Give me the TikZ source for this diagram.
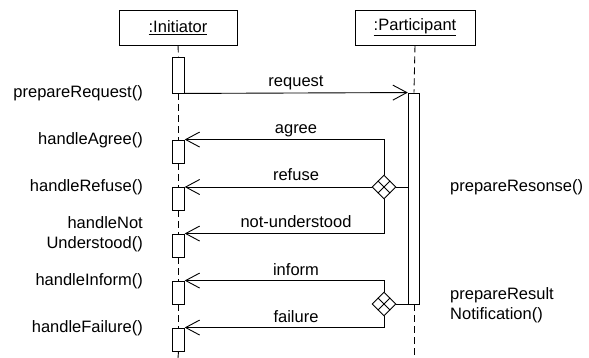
\documentclass[tikz,border=0pt]{standalone}
\usepackage{fontspec}
\setmainfont{Liberation Sans}
\usetikzlibrary{positioning,arrows.meta,calc,shapes.geometric}

\begin{document}
\begin{tikzpicture}[x=1pt,y=-1pt,
  txt/.style={font=\fontsize{16.5}{20}\selectfont},
  lifebox/.style={txt, draw, line width=0.9pt, minimum width=118pt, minimum height=35pt, inner sep=0pt},
  act/.style={draw, fill=white, line width=0.9pt, minimum width=11.5pt, inner sep=0pt},
  lifeline/.style={line width=0.9pt, dash pattern=on 7pt off 4pt},
  msg/.style={line width=0.9pt, -{Straight Barb[length=14pt,width=15pt]}},
  xorgate/.style={diamond, draw, fill=white, line width=0.9pt, minimum width=24pt, minimum height=24pt, inner sep=0pt},
  lbl/.style={txt, inner sep=0pt}]
\useasboundingbox (0,0) rectangle (589,358);

\node[lifebox] (init) at (178,27.5) {\underline{:Initiator}};
\node[lifebox, minimum width=120pt] (part) at (415,27.5) {\underline{:Participant}};
\coordinate (iend) at (178,358);
\coordinate (pend) at (414,358);

\node[act, minimum height=36pt] (iact) at (178.5,75) {};
\node[act, minimum height=211pt] (pact) at (414,198.5) {};
\node[act, minimum height=23pt] (ragree) at (178.5,151.5) {};
\node[act, minimum height=23pt] (rrefuse) at (178.5,198.5) {};
\node[act, minimum height=23pt] (rnotu) at (178.5,245.5) {};
\node[act, minimum height=23pt] (rinform) at (178.5,292.5) {};
\node[act, minimum height=23pt] (rfail) at (178.5,339.5) {};

\draw[lifeline] (init.south) -- (iact.north);
\draw[lifeline] (iact.south) -- (ragree.north);
\draw[lifeline] (ragree.south) -- (rrefuse.north);
\draw[lifeline] (rrefuse.south) -- (rnotu.north);
\draw[lifeline] (rnotu.south) -- (rinform.north);
\draw[lifeline] (rinform.south) -- (rfail.north);
\draw[lifeline] (rfail.south) -- (iend);
\draw[lifeline] (part.south) -- (pact.north);
\draw[lifeline] (pact.south) -- (pend);

\node[xorgate] (xor1) at (384,187) {};
\node[xorgate] (xor2) at (384,304) {};
\foreach \g in {xor1,xor2} {
  \draw[line width=0.9pt] ($(\g.north)!0.5!(\g.west)$) -- ($(\g.south)!0.5!(\g.east)$);
  \draw[line width=0.9pt] ($(\g.north)!0.5!(\g.east)$) -- ($(\g.south)!0.5!(\g.west)$);
  \draw[line width=0.9pt] (\g.east) -- (\g.east -| pact.west);
}

\draw[msg] (iact.south east) -- (pact.north west);
\draw[msg] (xor1.north) |- (ragree.north east);
\draw[msg] (xor1.west) -- (xor1.west -| rrefuse.east);
\draw[msg] (xor1.south) |- (rnotu.north east);
\draw[msg] (xor2.north) |- (rinform.north east);
\draw[msg] (xor2.south) |- (rfail.north east);

\node[lbl, anchor=base] (lrequest) at (296,87) {request};
\node[lbl, anchor=base] (lagree) at (296,134) {agree};
\node[lbl, anchor=base] (lrefuse) at (296,181) {refuse};
\node[lbl, anchor=base] (lnotu) at (296,228) {not-understood};
\node[lbl, anchor=base] (linform) at (296,275) {inform};
\node[lbl, anchor=base] (lfail) at (296,322) {failure};

\node[lbl, anchor=east] (hrequest) at (143,93) {prepareRequest()};
\node[lbl, anchor=east] (hagree) at (143,140) {handleAgree()};
\node[lbl, anchor=east] (hrefuse) at (143,187) {handleRefuse()};
\node[lbl, anchor=east, align=right] (hnotu) at (143,234) {handleNot\\Understood()};
\node[lbl, anchor=east] (hinform) at (143,281) {handleInform()};
\node[lbl, anchor=east] (hfail) at (143,328) {handleFailure()};

\node[lbl, anchor=west] (presponse) at (450,187) {prepareResonse()};
\node[lbl, anchor=west, align=left] (presult) at (450,305) {prepareResult\\Notification()};
\end{tikzpicture}
\end{document}
